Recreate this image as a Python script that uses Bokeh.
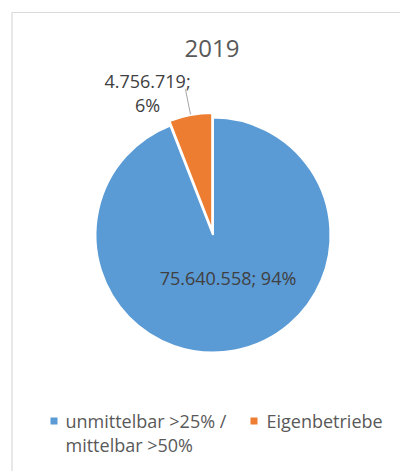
import math
from bokeh.plotting import figure
from bokeh.models import ColumnDataSource
from bokeh.core.properties import value
from bokeh.embed import file_html
from bokeh.resources import INLINE

# ---- data ----
title_text = "2019"
categories = ["unmittelbar >25% /\nmittelbar >50%", "Eigenbetriebe"]
values = [75640558, 4756719]
colors = ["#5B9BD5", "#ED7D31"]

W, H = 400, 471
FONT = "Open Sans"

def px(X):
    return X

def py(Y):
    return H - Y

p = figure(width=W, height=H, x_range=(0, W), y_range=(0, H),
           output_backend="svg", toolbar_location=None, min_border=0)
p.axis.visible = False
p.grid.visible = False
p.outline_line_color = None
p.background_fill_color = "white"
p.border_fill_color = "white"

# chart card border
p.quad(left=[px(11.5)], right=[px(440)], top=[py(12)], bottom=[py(520)],
       fill_color=None, line_color="#d9d9d9", line_width=1.2)

total = sum(values)
cx, cy, r = px(212.5), py(234.5), 117.5
explode = [0, 4.5]

# Excel: start at 12 o'clock, clockwise
angle = math.pi / 2
starts, ends, xs, ys, fracs = [], [], [], [], []
for v, e in zip(values, explode):
    sweep = 2 * math.pi * v / total
    end = angle
    start = angle - sweep
    mid = (start + end) / 2
    starts.append(start)
    ends.append(end)
    xs.append(cx + e * math.cos(mid))
    ys.append(cy + e * math.sin(mid))
    fracs.append(v / total)
    angle = start

src = ColumnDataSource(dict(x=xs, y=ys, start=starts, end=ends, color=colors))
p.wedge(x="x", y="y", radius=r, start_angle="start", end_angle="end",
        fill_color="color", line_color="white", line_width=2, source=src)

def fmt(v):
    return f"{v:,}".replace(",", ".")

labels = [f"{fmt(values[0])}; {round(fracs[0]*100)}%",
          f"{fmt(values[1])};\n{round(fracs[1]*100)}%"]
label_x = [px(227.5), px(147)]
label_y = [py(277.5), py(92)]
p.text(x=label_x, y=label_y, text=labels, text_font=value(FONT),
       text_font_size="18px", text_color="#404040", text_align="center",
       text_baseline="middle", text_line_height=1.0)

# leader line
p.line(x=[px(185), px(190)], y=[py(89), py(114)], line_color="#a6a6a6", line_width=1)

# title
p.text(x=[px(211.5)], y=[py(48)], text=[title_text], text_font=value(FONT),
       text_font_size="24px", text_color="#595959", text_align="center",
       text_baseline="middle")

# legend
leg_x = [px(53.5), px(253.5)]
leg_y = [py(420.5), py(420.5)]
p.scatter(x=leg_x, y=leg_y, marker="square", size=7, fill_color=colors,
          line_color=None)
p.text(x=[px(65), px(266)], y=[py(408), py(408)], text=categories,
       text_font=value(FONT), text_font_size="18px", text_color="#595959",
       text_align="left", text_baseline="top", text_line_height=1.0)

open("out.html", "w").write(file_html(p, INLINE))
